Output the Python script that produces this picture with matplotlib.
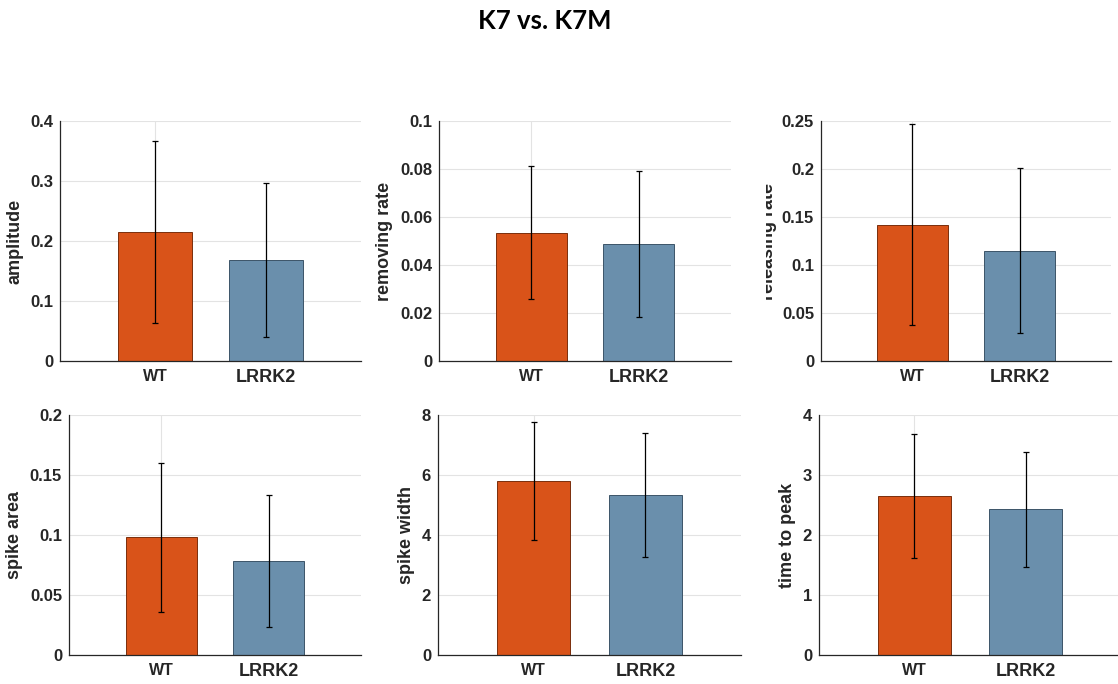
import matplotlib
matplotlib.use("Agg")
import matplotlib.pyplot as plt
from matplotlib.ticker import FormatStrFormatter
from matplotlib.transforms import Bbox, TransformedBbox

plt.rcParams["font.family"] = ["Liberation Sans", "DejaVu Sans"]

# %% data
groups = ["WT", "LRRK2"]
metrics = ["amplitude", "removing rate", "releasing rate",
           "spike area", "spike width", "time to peak"]
mean_wt = [0.215, 0.0535, 0.142, 0.098, 5.80, 2.65]
mean_lrrk2 = [0.168, 0.0487, 0.115, 0.078, 5.34, 2.43]
err_wt = [0.151, 0.0277, 0.105, 0.062, 1.98, 1.04]
err_lrrk2 = [0.128, 0.0303, 0.0857, 0.055, 2.06, 0.96]
y_max = [0.4, 0.1, 0.25, 0.2, 8, 4]
y_step = [0.1, 0.02, 0.05, 0.05, 2, 1]

# %% layout (pixel boxes: left, top, right, bottom)
W, H = 1118, 684
boxes = [(60, 121, 361, 361), (439, 121, 731, 361), (821, 121, 1111, 361),
         (69, 415, 361, 655), (438, 415, 741, 655), (819, 415, 1121, 655)]
colors = ["#D95319", "#6A8FAC"]
edges = ["#7A2E0C", "#3C5468"]
ink = "#262626"

fig = plt.figure(figsize=(W / 100, H / 100), dpi=100)

for i, (l, t, r, b) in enumerate(boxes):
    ax = fig.add_axes([l / W, 1 - b / H, (r - l) / W, (b - t) / H])
    x = [1, 2]
    ax.bar(x, [mean_wt[i], mean_lrrk2[i]], width=0.66, color=colors,
           edgecolor=edges, linewidth=0.7, zorder=2)
    ax.errorbar(x, [mean_wt[i], mean_lrrk2[i]], yerr=[err_wt[i], err_lrrk2[i]],
                fmt="none", ecolor="black", elinewidth=0.9, capsize=2.5,
                capthick=0.9, zorder=3)
    ax.set_xlim(0.145, 2.855)
    ax.set_ylim(0, y_max[i])
    n = int(round(y_max[i] / y_step[i]))
    ax.set_yticks([k * y_step[i] for k in range(n + 1)])
    ax.yaxis.set_major_formatter(FormatStrFormatter("%g"))

    ax.set_xticks([1])
    ax.set_xticklabels([groups[0]], fontsize=11.5, fontweight="bold", color=ink)
    ax.set_xticks([2], minor=True)
    ax.set_xticklabels([groups[1]], minor=True, fontsize=13, fontweight="bold", color=ink)
    ax.tick_params(axis="x", which="major", direction="in", length=4, width=0.8,
                   color=ink, pad=6)
    ax.tick_params(axis="x", which="minor", length=0, pad=6)
    ax.tick_params(axis="y", length=0, labelsize=12, labelcolor=ink, pad=5)
    for lab in ax.get_yticklabels():
        lab.set_fontweight("bold")

    ax.set_axisbelow(True)
    ax.grid(True, which="major", color="#E3E3E3", linewidth=0.8)
    for side in ("top", "right"):
        ax.spines[side].set_visible(False)
    for side in ("left", "bottom"):
        ax.spines[side].set_color(ink)
        ax.spines[side].set_linewidth(0.9)

    ylab = ax.set_ylabel(metrics[i], fontsize=13, fontweight="bold", color=ink,
                         labelpad=3.5 if i == 2 else 5)
    if i == 2:
        # the reference shows this label cut off on its left side
        clip = TransformedBbox(Bbox([[766 / W, 0], [1, 1]]), fig.transFigure)
        ylab.set_clip_box(clip)
        ylab.set_clip_on(True)

fig.text(545 / W, 1 - 21 / H, "K7 vs. K7M", ha="center", va="center",
         fontsize=18.5, fontweight="bold", family=["Lato", "DejaVu Sans"], color="black")

fig.savefig("out.png", dpi=100)
